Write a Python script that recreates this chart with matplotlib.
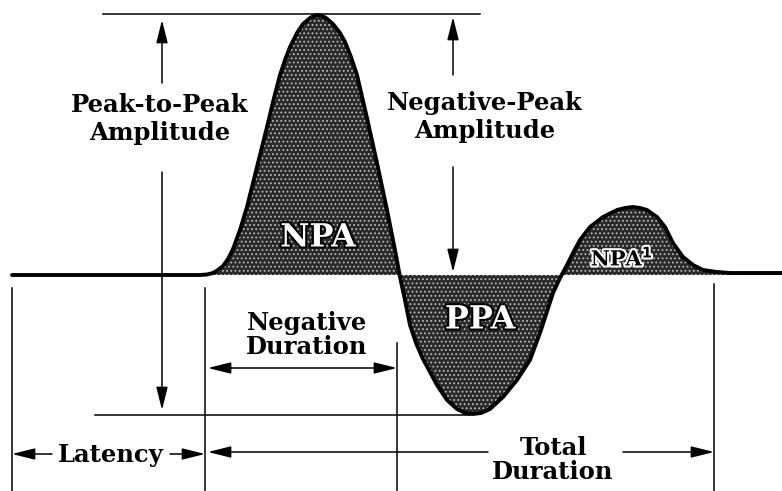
import matplotlib.pyplot as plt
import matplotlib.patheffects as pe

# waveform (time in px units, amplitude: baseline = 0)
t = [12, 200, 207, 213, 218, 223, 228, 233, 240, 247, 257, 267, 274, 280, 285,
     290, 297, 303, 310, 314, 318, 322, 326, 333, 340, 345, 351, 357, 367, 377,
     387, 395, 400, 405, 410, 416, 423, 430, 437, 447, 457, 465, 473, 481, 490,
     503, 517, 530, 541, 553, 560, 567, 573, 580, 590, 603, 617, 625, 633, 640,
     647, 657, 665, 673, 683, 693, 703, 717, 730, 782]
amp = [0, 0, 0.5, 2, 5, 9, 16, 26, 45, 68, 108, 148, 177, 200, 215,
       228, 242, 251, 257, 259, 260, 259, 257, 251, 242, 233, 218, 200, 157, 112,
       65, 25, -2, -25, -50, -68, -84, -97, -110, -125, -134, -138, -139, -138, -134,
       -122, -105, -85, -55, -18, -3, 10, 22, 35, 48, 58, 65, 67, 68, 67,
       65, 58, 48, 32, 18, 10, 5, 3, 2, 2]

# events on the waveform
onset = 205        # end of latency
neg_end = 397      # negative phase ends (zero crossing)
total_end = 714    # end of response
peak = 261
trough = -140

plt.rcParams['font.family'] = ['DejaVu Serif']
plt.rcParams['hatch.color'] = '#bbbbbb'
plt.rcParams['hatch.linewidth'] = 0.8

fig = plt.figure(figsize=(7.82, 4.91), dpi=100)
ax = fig.add_axes([0, 0, 1, 1])
ax.set_xlim(0, 782)
ax.set_ylim(-216, 275)
ax.axis('off')

# shaded areas + trace
ax.fill_between(t, amp, 0, facecolor='#2a2a2a', hatch='....', linewidth=0)
ax.plot(t, amp, color='black', lw=2.8, solid_joinstyle='round', solid_capstyle='round')

lw = 1.1
# reference lines at peak and trough
ax.plot([103, 480], [peak, peak], color='black', lw=lw)
ax.plot([95, 470], [trough, trough], color='black', lw=lw)

# vertical markers
ax.plot([12, 12], [-13, -216], color='black', lw=lw)
ax.plot([onset, onset], [-13, -216], color='black', lw=lw)
ax.plot([neg_end, neg_end], [-68, -216], color='black', lw=lw)
ax.plot([total_end, total_end], [-9, -216], color='black', lw=lw)

arrow = dict(arrowstyle='-|>,head_length=1.0,head_width=0.25', color='black',
             lw=lw, shrinkA=0, shrinkB=0, mutation_scale=14)


def arr(x0, y0, x1, y1):
    ax.annotate('', xy=(x1, y1), xytext=(x0, y0), arrowprops=arrow)


txt = dict(fontsize=17.5, fontweight='bold', ha='center', va='center')

# peak-to-peak amplitude
arr(162, 192, 162, peak - 6)
arr(162, 103, 162, trough + 5)
ax.text(160, 275 - 119, 'Peak-to-Peak\nAmplitude', linespacing=1.2, **txt)

# negative-peak amplitude
arr(453, 200, 453, peak - 3)
arr(453, 108, 453, 3)
ax.text(485, 275 - 117, 'Negative-Peak\nAmplitude', linespacing=1.2, **txt)

# negative duration
ax.annotate('', xy=(208, -93), xytext=(neg_end, -93),
            arrowprops=dict(arrow, arrowstyle='<|-|>,head_length=1.0,head_width=0.25'))
ax.text(307, 275 - 335, 'Negative\nDuration', linespacing=1.0, **txt)

# latency
arr(52, -179, 12, -179)
arr(170, -179, onset, -179)
ax.text(111, 275 - 455, 'Latency', **txt)

# total duration
arr(488, -177, 208, -177)
arr(623, -177, total_end, -177)
ax.text(553, 275 - 460, 'Total\nDuration', linespacing=1.05, **txt)

# area labels
white = [pe.withStroke(linewidth=3, foreground='black')]
ax.text(318, 275 - 238, 'NPA', fontsize=23, fontweight='bold', color='white',
        ha='center', va='center', path_effects=white)
ax.text(480, 275 - 320, 'PPA', fontsize=23, fontweight='bold', color='white',
        ha='center', va='center', path_effects=white)
ax.text(622, 275 - 257, 'NPA$^{\\mathbf{1}}$', fontsize=15, fontweight='bold',
        color='black', ha='center', va='center',
        path_effects=[pe.withStroke(linewidth=3, foreground='white')])

plt.savefig('out.png', dpi=100)
